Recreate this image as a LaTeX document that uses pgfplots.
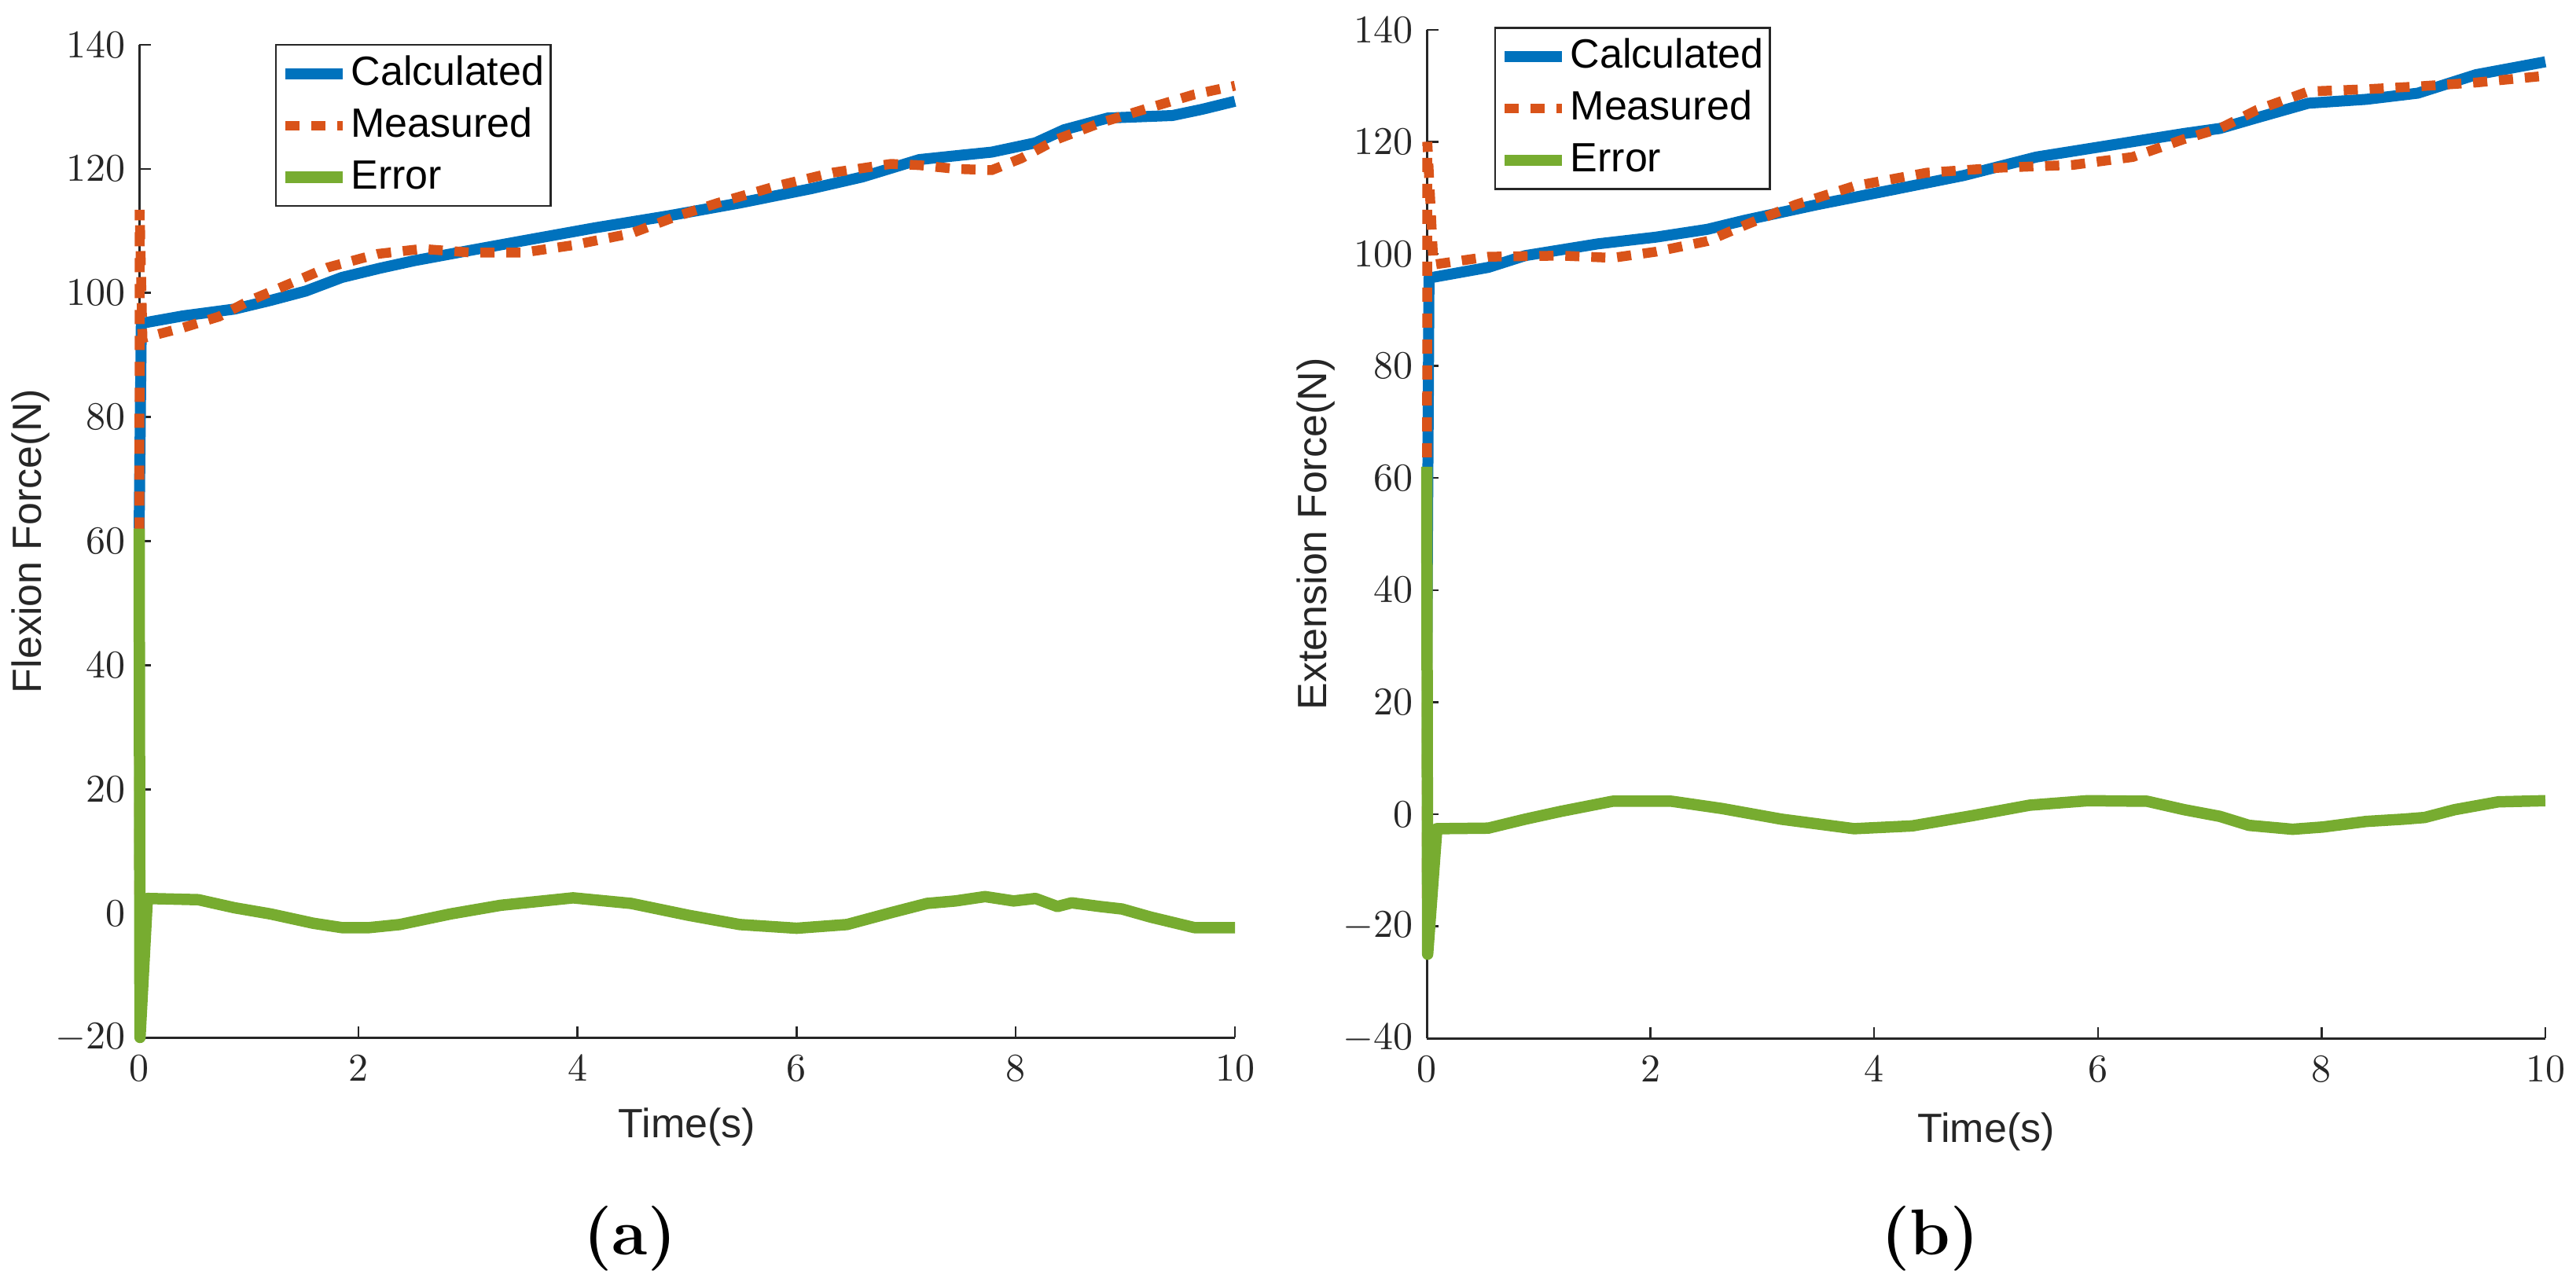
\documentclass[border=0pt]{standalone}
\usepackage{pgfplots}
\pgfplotsset{compat=1.18}
\usepackage{fontspec}
\newfontfamily\arial{Liberation Sans}
\definecolor{mblue}{HTML}{0072BD}
\definecolor{morange}{HTML}{D95319}
\definecolor{mgreen}{HTML}{77AC30}
\definecolor{axgray}{HTML}{262626}
\pgfplotsset{
  mystyle/.style={
    scale only axis,
    axis x line=bottom, axis y line=left,
    axis line style={-, axgray, line width=0.6pt},
    tick align=inside,
    major tick length=2.9pt,
    every tick/.style={axgray, line width=0.5pt},
    xmin=0, xmax=10, xtick={0,2,...,10},
    ticklabel style={font=\fontsize{9.8}{11}\selectfont, text=axgray},
    xticklabel style={yshift=-1.2pt},
    clip=false,
    legend cell align=left,
    legend style={draw=axgray, line width=0.5pt, font=\arial\fontsize{10.4}{12}\selectfont,
      inner xsep=1pt, inner ysep=0.7pt, row sep=0pt,
      nodes={inner xsep=0.6pt, inner ysep=1.9pt, text height=7.6pt, text depth=1.8pt}},
    legend image code/.code={\draw[##1] (0pt,0pt) -- (14.6pt,0pt);},
    label style={font=\arial\fontsize{10.4}{12}\selectfont, text=axgray},
  },
  calc/.style={mblue, line width=2.8pt, line join=round},
  meas/.style={morange, line width=2.5pt, dash pattern=on 3.6pt off 3pt},
  err/.style={mgreen, line width=2.9pt, line join=round},
}
\begin{document}
\begin{tikzpicture}
\path[use as bounding box] (0,0) rectangle (655.4pt,326.8pt);
% ---------- (a) ----------
\begin{axis}[mystyle,
  at={(35.4pt,62.8pt)}, anchor=south west,
  width=278.8pt, height=252.6pt,
  ymin=-20, ymax=140, ytick={-20,0,...,140},
  xlabel={Time(s)}, ylabel={Flexion Force(N)},
  xlabel style={at={(axis description cs:0.5,-0.1013)}, anchor=base},
  ylabel style={at={(axis description cs:-0.099,0.5)}, anchor=center},
  legend style={at={(0.124,1.0008)}, anchor=north west},
]
\addplot[calc] coordinates {
(0,62) (0.02,95.1) (0.4,96.3) (0.87,97.4) (1.2,98.8) (1.52,100.3) (1.85,102.5) (2.2,104) (2.51,105.2) (2.97,106.7) (3.5,108.4) (4.16,110.5) (4.82,112.4) (5.48,114.5) (6.13,116.8) (6.6,118.7) (7.12,121.5) (7.5,122.2) (7.78,122.7) (8.18,124.2) (8.44,126.3) (8.84,128.2) (9.43,128.6) (9.7,129.6) (10,130.9)
};
\addlegendentry{Calculated}
\addplot[meas] coordinates {
(0,3) (0.005,113.4) (0.03,92.7) (0.4,94.4) (0.73,96.2) (1.0,98.7) (1.39,101.6) (1.72,104.1) (2.18,106.3) (2.58,107.1) (3.04,106.5) (3.5,106.5) (3.96,107.7) (4.49,109.6) (4.88,112.2) (5.28,114.5) (5.81,117.2) (6.33,119.4) (6.86,120.8) (7.12,120.6) (7.45,120) (7.78,119.8) (8.05,121.7) (8.38,124.8) (8.77,127.4) (9.23,129.9) (9.63,132) (10,133.4)
};
\addlegendentry{Measured}
\addplot[err] coordinates {
(0,62) (0.008,-20) (0.075,2.4) (0.54,2.2) (0.87,0.9) (1.2,-0.1) (1.59,-1.6) (1.85,-2.3) (2.1,-2.3) (2.38,-1.8) (2.84,-0.1) (3.3,1.3) (3.96,2.5) (4.49,1.6) (5.01,-0.3) (5.48,-1.8) (6.0,-2.4) (6.46,-1.8) (6.86,0.1) (7.19,1.6) (7.45,2.0) (7.72,2.7) (7.98,2.0) (8.18,2.4) (8.38,1.1) (8.51,1.7) (8.77,1.1) (8.97,0.7) (9.23,-0.6) (9.63,-2.3) (10,-2.3)
};
\addlegendentry{Error}
\end{axis}
% ---------- (b) ----------
\begin{axis}[mystyle,
  at={(363pt,62.6pt)}, anchor=south west,
  width=284.6pt, height=256.6pt,
  ymin=-40, ymax=140, ytick={-40,-20,...,140},
  xlabel={Time(s)}, ylabel={Extension Force(N)},
  xlabel style={at={(axis description cs:0.5,-0.1029)}, anchor=base},
  ylabel style={at={(axis description cs:-0.0991,0.5)}, anchor=center},
  legend style={at={(0.0604,1.003)}, anchor=north west},
]
\addplot[calc] coordinates {
(0,27) (0.02,95.7) (0.55,97.6) (0.88,99.7) (1.53,101.8) (2.05,103) (2.51,104.4) (2.84,106) (3.49,108.8) (4.15,111.4) (4.8,114) (5.45,117.3) (6.11,119.4) (6.77,121.5) (7.09,122.4) (7.42,124.3) (7.88,126.9) (8.4,127.6) (8.86,128.7) (9.38,132) (10,134.3)
};
\addlegendentry{Calculated}
\addplot[meas] coordinates {
(0,-15) (0.005,120) (0.06,98.1) (0.55,99.5) (1.2,99.7) (1.66,99.3) (2.05,100.4) (2.51,102.3) (2.84,105.1) (3.3,108.8) (3.82,112.1) (4.47,114.5) (5.13,115.4) (5.78,115.9) (6.31,117.3) (6.77,120.5) (7.09,122.4) (7.42,125.7) (7.88,129) (8.4,129.4) (8.86,129.9) (9.38,130.6) (10,131.8)
};
\addlegendentry{Measured}
\addplot[err] coordinates {
(0,62) (0.008,-25) (0.09,-2.6) (0.55,-2.5) (0.88,-0.9) (1.2,0.5) (1.66,2.3) (2.19,2.3) (2.64,1.0) (3.17,-0.9) (3.82,-2.6) (4.34,-2.1) (4.87,-0.3) (5.39,1.6) (5.91,2.4) (6.44,2.3) (6.77,0.8) (7.09,-0.4) (7.35,-2.0) (7.74,-2.7) (8.01,-2.3) (8.4,-1.3) (8.73,-0.9) (8.92,-0.6) (9.19,0.8) (9.58,2.2) (10,2.4)
};
\addlegendentry{Error}
\end{axis}
\node[font=\fontsize{16.5}{19}\selectfont\bfseries] at (160.3pt,11.6pt) {(a)};
\node[font=\fontsize{16.5}{19}\selectfont\bfseries] at (491.1pt,11.6pt) {(b)};
\end{tikzpicture}
\end{document}
